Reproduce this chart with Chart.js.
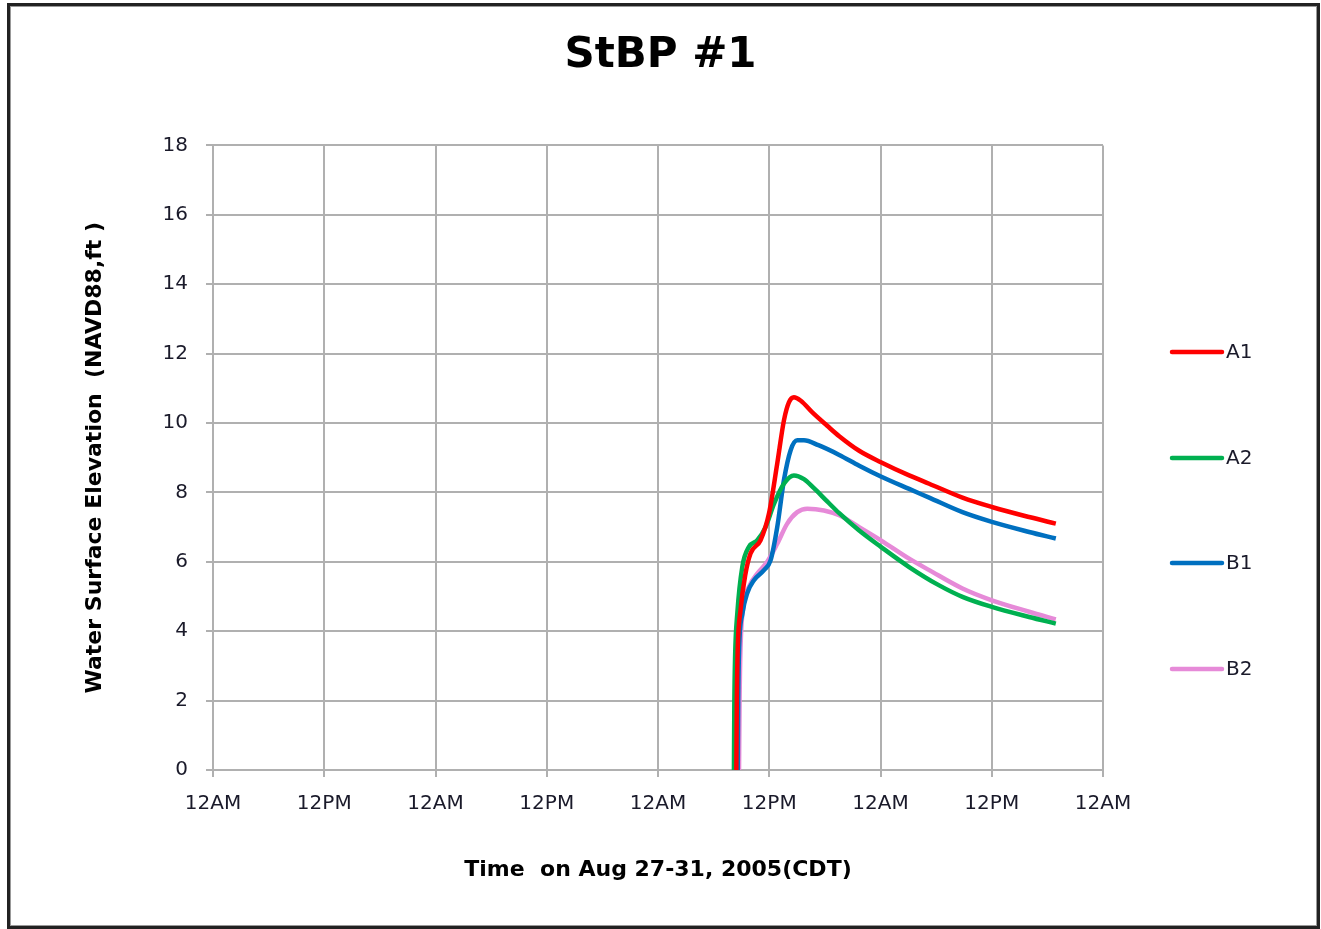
<!DOCTYPE html>
<html>
<head>
<meta charset="utf-8">
<script src="https://cdn.jsdelivr.net/npm/chart.js@4.4.1/dist/chart.umd.min.js"></script>
<style>
    html, body { margin: 0; padding: 0; background: #fff; }
    #wrap { position: relative; width: 1321px; height: 929px; overflow: hidden; }
    #frame {
        position: absolute; left: 7px; top: 3px; width: 1313px; height: 926px;
        border: 3px solid #222; box-shadow: inset 1px 1px 0 #999, inset -1px -1px 0 #999;
        box-sizing: border-box; pointer-events: none;
    }
    canvas { position: absolute; left: 0; top: 0; }
</style>
</head>
<body>
<div id="wrap">
    <canvas id="chart" width="1321" height="929"></canvas>
    <div id="frame"></div>
</div>
<script>
// Water surface elevation at StBP #1, hours since 12AM Aug 27 2005 (CDT).
const xTickLabels = ['12AM', '12PM', '12AM', '12PM', '12AM', '12PM', '12AM', '12PM', '12AM'];
const seriesNames = ['A1', 'A2', 'B1', 'B2'];
const seriesColors = ['#ff0000', '#00b050', '#0070c0', '#e68ad8'];

const a1Hours = [56.45, 56.5, 56.6, 56.9, 57.4, 57.98, 59.06, 59.97, 60.86, 61.58, 62.13, 62.66, 63.37, 64.82, 66.25, 67.55, 69.7, 72.04, 75.09, 77.25, 80.84, 84.01, 88.03, 90.91];
const a1Values = [0, 2.0, 3.5, 4.6, 5.6, 6.24, 6.62, 7.39, 8.83, 10.07, 10.6, 10.74, 10.65, 10.26, 9.92, 9.62, 9.2, 8.87, 8.49, 8.25, 7.85, 7.58, 7.29, 7.1];

const a2Hours = [56.19, 56.23, 56.32, 56.55, 57.09, 57.81, 58.71, 59.6, 60.51, 61.58, 62.66, 63.74, 64.82, 66.25, 67.55, 69.7, 72.04, 75.09, 78.33, 80.84, 84.01, 88.03, 90.91];
const a2Values = [0, 1.8, 3.3, 4.5, 5.85, 6.43, 6.62, 7.0, 7.67, 8.25, 8.49, 8.38, 8.12, 7.74, 7.4, 6.9, 6.43, 5.85, 5.32, 4.99, 4.7, 4.41, 4.22];

const b1Hours = [56.6, 56.65, 56.75, 57.1, 57.63, 58.35, 59.43, 60.14, 60.86, 61.58, 62.3, 63.02, 63.74, 65.3, 67.55, 69.7, 72.04, 75.09, 77.25, 80.84, 84.01, 88.03, 90.91];
const b1Values = [0, 2.0, 3.5, 4.5, 5.1, 5.47, 5.76, 6.04, 7.0, 8.35, 9.21, 9.5, 9.5, 9.36, 9.08, 8.77, 8.46, 8.1, 7.85, 7.43, 7.15, 6.86, 6.67];

const b2Hours = [56.74, 56.8, 56.9, 57.27, 57.81, 58.71, 59.78, 60.86, 61.94, 63.02, 64.1, 65.9, 67.55, 69.7, 72.04, 75.09, 77.25, 80.84, 84.01, 88.03, 90.91];
const b2Values = [0, 2.0, 3.5, 4.8, 5.28, 5.66, 6.0, 6.52, 7.1, 7.43, 7.53, 7.48, 7.34, 7.0, 6.62, 6.09, 5.76, 5.23, 4.89, 4.56, 4.34];

const hourSets = [a1Hours, a2Hours, b1Hours, b2Hours];
const valueSets = [a1Values, a2Values, b1Values, b2Values];

const FONT = '"DejaVu Sans", Verdana, sans-serif';
const GRID = '#b0b0b0';
const LABEL = '#1a1a2a';

function toPoints(hours, values) {
    return hours.map((h, i) => ({ x: h, y: values[i] }));
}

// legend sits to the right of the plot, one entry per series, widely spaced
const sideLegend = {
    id: 'sideLegend',
    afterDraw(chart) {
        const ctx = chart.ctx;
        const ys = [352, 458, 563, 669];
        ctx.save();
        chart.data.datasets.forEach((ds, i) => {
            ctx.strokeStyle = ds.borderColor;
            ctx.lineWidth = 4.5;
            ctx.lineCap = 'round';
            ctx.beginPath();
            ctx.moveTo(1172, ys[i]);
            ctx.lineTo(1222, ys[i]);
            ctx.stroke();
            ctx.fillStyle = LABEL;
            ctx.font = '20px ' + FONT;
            ctx.textBaseline = 'middle';
            ctx.textAlign = 'left';
            ctx.fillText(ds.label, 1226, ys[i] + 1);
        });
        ctx.restore();
    },
};

new Chart(document.getElementById('chart'), {
    type: 'line',
    data: {
        datasets: seriesNames.map((name, i) => ({
            label: name,
            data: toPoints(hourSets[i], valueSets[i]),
            borderColor: seriesColors[i],
            backgroundColor: seriesColors[i],
            borderWidth: 4.5,
            pointRadius: 0,
            cubicInterpolationMode: 'monotone',
            fill: false,
        })),
    },
    options: {
        responsive: false,
        animation: false,
        layout: { padding: 0 },
        plugins: {
            legend: { display: false },
            tooltip: { enabled: false },
            title: {
                display: true,
                text: 'StBP #1',
                color: '#000',
                font: { family: FONT, size: 42, weight: 'bold', lineHeight: 1.2 },
                padding: { top: 31, bottom: 64 },
            },
        },
        scales: {
            x: {
                type: 'linear',
                min: 0,
                max: 96,
                afterFit(scale) { scale.height = 159; },
                afterBuildTicks(scale) {
                    scale.ticks = xTickLabels.map((_, i) => ({ value: i * 12 }));
                },
                ticks: {
                    color: LABEL,
                    font: { family: FONT, size: 20 },
                    padding: 15,
                    maxRotation: 0,
                    autoSkip: false,
                    callback: (v, i) => xTickLabels[i],
                },
                grid: { color: GRID, lineWidth: 2, tickLength: 7, tickColor: GRID },
                border: { color: GRID, width: 2 },
                title: {
                    display: true,
                    text: 'Time  on Aug 27-31, 2005(CDT)',
                    color: '#000',
                    font: { family: FONT, size: 22, weight: 'bold', lineHeight: 1.2 },
                    padding: { top: 0, bottom: 46 },
                },
            },
            y: {
                min: 0,
                max: 18,
                afterFit(scale) { scale.width = 213; },
                ticks: {
                    stepSize: 2,
                    color: LABEL,
                    font: { family: FONT, size: 20 },
                    padding: 18,
                },
                grid: { color: GRID, lineWidth: 2, tickLength: 7, tickColor: GRID },
                border: { color: GRID, width: 2 },
                title: {
                    display: true,
                    text: 'Water Surface Elevation  (NAVD88,ft )',
                    color: '#000',
                    font: { family: FONT, size: 22, weight: 'bold', lineHeight: 1.2 },
                    padding: { top: 82, bottom: 0 },
                },
            },
            // empty right-hand axis only reserves room for the legend
            yRight: {
                position: 'right',
                min: 0,
                max: 18,
                afterFit(scale) { scale.width = 218; },
                ticks: { display: false },
                grid: { display: false, drawOnChartArea: false },
                border: { display: false },
            },
        },
    },
    plugins: [sideLegend],
});
</script>
</body>
</html>
